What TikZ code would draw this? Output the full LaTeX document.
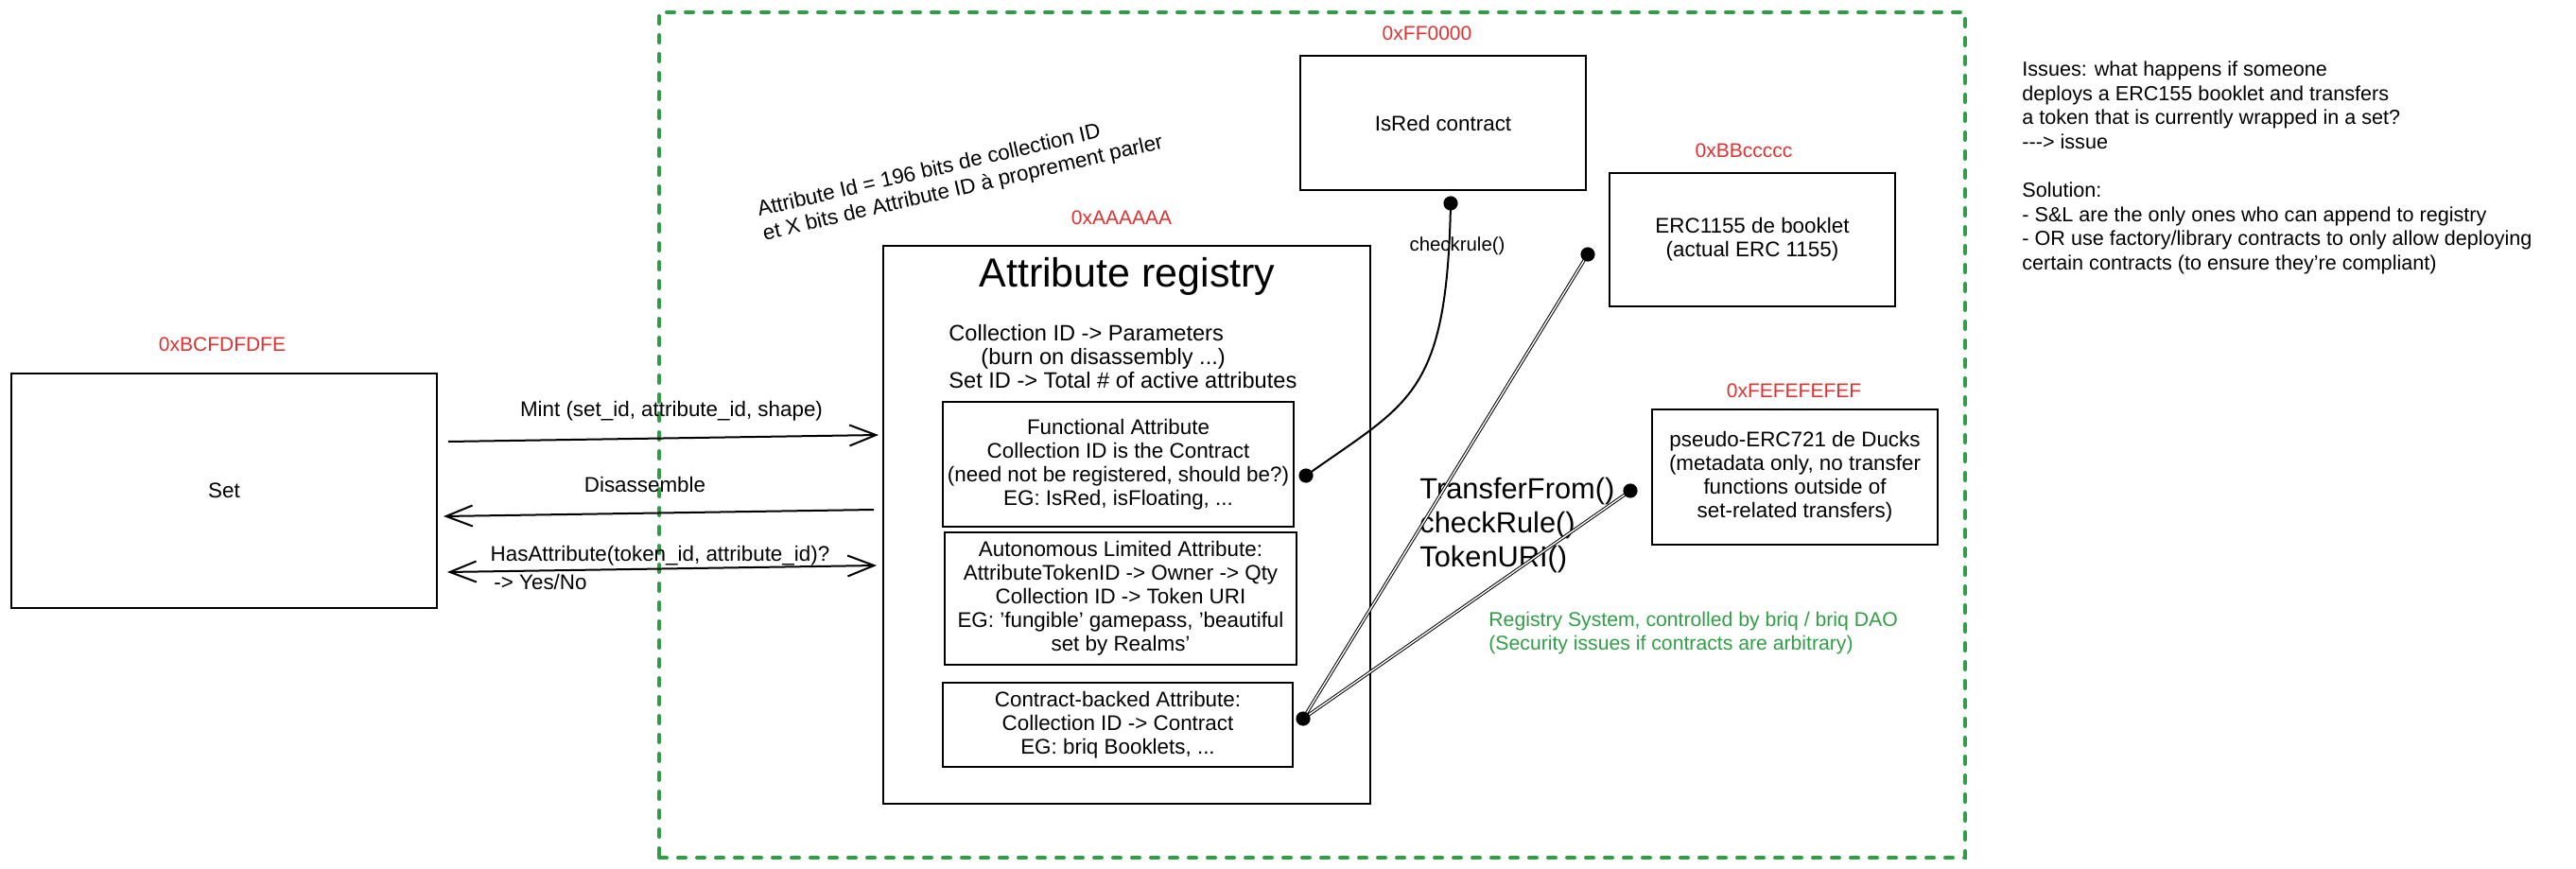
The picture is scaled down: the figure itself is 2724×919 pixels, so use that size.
\documentclass[tikz,border=0pt]{standalone}
\usepackage{fontspec}
\setmainfont{Liberation Sans}
\usetikzlibrary{arrows.meta}
\definecolor{exred}{HTML}{E03131}
\definecolor{exgreen}{HTML}{2F9E44}
\newcommand{\fbody}{\fontsize{11.2}{12.5}\selectfont}
\newcommand{\fmaps}{\fontsize{11.8}{12.5}\selectfont}
\newcommand{\fnotes}{\fontsize{10.8}{12.8}\selectfont}
\newcommand{\fgreen}{\fontsize{10.6}{12.5}\selectfont}
\newcommand{\faddr}{\fontsize{10.5}{12}\selectfont}
\newcommand{\ftitle}{\fontsize{21.5}{24}\selectfont}
\newcommand{\fbig}{\fontsize{15.4}{18}\selectfont}
\newcommand{\fsmall}{\fontsize{10.2}{12}\selectfont}
\newcommand{\frot}{\fontsize{11.2}{13}\selectfont}
\begin{document}
\begin{tikzpicture}[x=0.5pt,y=-0.5pt,
  box/.style={draw=black, line width=1pt, inner sep=0pt, align=center, font=\fbody},
  addr/.style={text=exred, font=\faddr, inner sep=0pt},
  txt/.style={font=\fbody, inner sep=0pt},
  arr/.style={line width=1pt, -{Straight Barb[length=14pt,width=11pt,line width=1pt]}},
  arrboth/.style={line width=1pt, {Straight Barb[length=14pt,width=11pt,line width=1pt]}-{Straight Barb[length=14pt,width=11pt,line width=1pt]}},
  link/.style={line width=0.5pt, double, double distance=0.7pt},
  frame/.style={draw=exgreen, line width=2pt, dash pattern=on 4pt off 6pt, line cap=round, inner sep=0pt}]
\useasboundingbox (0,0) rectangle (2724,919);

% system frame
\node[frame, minimum width=690.5pt, minimum height=447pt] (system) at (1387.5,460) {};

% Set
\node[box, minimum width=225pt, minimum height=124pt] (set) at (237,519) {Set};
\node[addr] (setaddr) at (235,364) {0xBCFDFDFE};

% Attribute registry
\node[box, minimum width=257.5pt, minimum height=295pt] (reg) at (1191.5,555) {};
\node[addr] (regaddr) at (1186,230) {0xAAAAAA};
\node[txt, font=\ftitle] (regtitle) at (1192,292) {Attribute registry};
\node[txt, font=\fmaps, anchor=west, align=left] (regmaps) at (1003,377)
  {Collection ID -> Parameters\\\hspace*{17pt}(burn on disassembly ...)\\Set ID -> Total \# of active attributes};
\node[box, minimum width=185.5pt, minimum height=66pt] (func) at (1182.5,491)
  {Functional Attribute\\Collection ID is the Contract\\(need not be registered, should be?)\\EG: IsRed, isFloating, ...};
\node[box, minimum width=186pt, minimum height=70pt] (auton) at (1185,633)
  {Autonomous Limited Attribute:\\AttributeTokenID -> Owner -> Qty\\Collection ID -> Token URI\\EG: 'fungible' gamepass, 'beautiful\\set by Realms'};
\node[box, minimum width=185pt, minimum height=44.5pt] (cback) at (1182,766.5)
  {Contract-backed Attribute:\\Collection ID -> Contract\\EG: briq Booklets, ...};

% rotated note
\node[txt, font=\frot, rotate=13, align=left, anchor=west] (attrid) at (804,236)
  {Attribute Id = 196 bits de collection ID\\et X bits de Attribute ID à proprement parler};

% contracts
\node[box, minimum width=151pt, minimum height=71pt] (isred) at (1526,130) {IsRed contract};
\node[addr] (isredaddr) at (1509,35) {0xFF0000};
\node[box, minimum width=151pt, minimum height=70.5pt] (erc) at (1853,253.5) {ERC1155 de booklet\\(actual ERC 1155)};
\node[addr] (ercaddr) at (1844,159) {0xBBccccc};
\node[box, minimum width=151pt, minimum height=71.5pt] (duck) at (1898,504.5)
  {pseudo-ERC721 de Ducks\\(metadata only, no transfer\\functions outside of\\set-related transfers)};
\node[addr] (duckaddr) at (1897,413) {0xFEFEFEFEF};

% call list and notes
\node[txt, font=\fbig, anchor=west, align=left] (calls) at (1501,556) {TransferFrom()\\checkRule()\\TokenURI()};
\node[txt, font=\fgreen, text=exgreen, anchor=west, align=left] (regsys) at (1574,669.5)
  {Registry System, controlled by briq / briq DAO\\(Security issues if contracts are arbitrary)};
\node[txt, font=\fnotes, anchor=west, align=left] (issues) at (2138,177.5)
  {Issues: what happens if someone\\deploys a ERC155 booklet and transfers\\a token that is currently wrapped in a set?\\-{}-{}-> issue\\[12.8pt]Solution:\\- S\&L are the only ones who can append to registry\\- OR use factory/library contracts to only allow deploying\\certain contracts (to ensure they're compliant)};

% Set <-> registry arrows
\draw[arr] ([shift={(11,-52)}]set.east) -- ([shift={(-4,-95)}]reg.west);
\node[txt] (mintlbl) at (710,435) {Mint (set\_id, attribute\_id, shape)};
\draw[arr] ([shift={(-9,-16)}]reg.west) -- ([shift={(6,27)}]set.east);
\node[txt] (dislbl) at (682,512) {Disassemble};
\draw[arrboth] ([shift={(10,86)}]set.east) -- ([shift={(-6,43)}]reg.west);
\node[txt] (haslbl) at (698,588) {HasAttribute(token\_id, attribute\_id)?};
\node[txt, anchor=west] (yesno) at (522,615) {-> Yes/No};

% dot connectors
\coordinate (funcdot) at ([shift={(12,12)}]func.east);
\coordinate (isreddot) at ([shift={(8,13)}]isred.south);
\coordinate (cbdot) at ([shift={(10,-6.5)}]cback.east);
\coordinate (ercdot) at ([shift={(-22,15.5)}]erc.west);
\coordinate (duckdot) at ([shift={(-22,14.5)}]duck.west);

\draw[line width=1pt] (funcdot) .. controls (1490,425) and (1530,420) .. (isreddot);
\node[txt, font=\fsmall] (checklbl) at (1541,260) {checkrule()};
\draw[link] (cbdot) -- (ercdot);
\draw[link] (cbdot) -- (duckdot);
\foreach \d in {funcdot,isreddot,cbdot,ercdot,duckdot} \fill (\d) circle (3.8pt);
\end{tikzpicture}
\end{document}
